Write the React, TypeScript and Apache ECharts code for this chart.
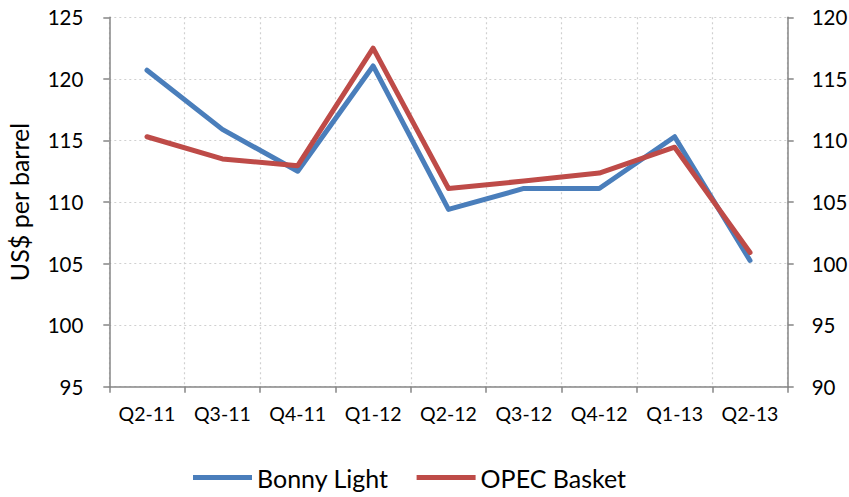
import React, { useEffect, useRef } from "react";
import * as echarts from "echarts";

const categories = ["Q2-11", "Q3-11", "Q4-11", "Q1-12", "Q2-12", "Q3-12", "Q4-12", "Q1-13", "Q2-13"];
const bonnyLight = [120.7, 115.9, 112.5, 121.05, 109.4, 111.1, 111.1, 115.3, 105.25];
const opecBasket = [110.3, 108.5, 107.95, 117.5, 106.1, 106.7, 107.35, 109.45, 100.9];
const leftTicks = { min: 95, max: 125, interval: 5 };
const rightTicks = { min: 90, max: 120, interval: 5 };

const FONT = "Lato, 'Open Sans', sans-serif";

export default function App() {
  const ref = useRef<HTMLDivElement>(null);
  useEffect(() => {
    if (!ref.current) return;
    const chart = echarts.init(ref.current, undefined, { renderer: "svg" });
    const axisLine = { show: true, lineStyle: { color: "#868686", width: 1.5 } };
    const axisTick = { show: true, length: 6, lineStyle: { color: "#868686", width: 1.5 } };
    chart.setOption({
      animation: false,
      backgroundColor: "#ffffff",
      textStyle: { fontFamily: FONT },
      grid: {
        left: 109.3,
        right: 61.3,
        top: 17.3,
        bottom: 110.3,
        containLabel: false,
        outerBoundsMode: "none",
      },
      legend: {
        data: ["Bonny Light", "OPEC Basket"],
        left: 188,
        top: 460,
        icon: "rect",
        itemWidth: 59,
        itemHeight: 5,
        itemGap: 28,
        textStyle: { fontFamily: FONT, fontSize: 25, color: "#000" },
      },
      xAxis: {
        type: "category",
        data: categories,
        boundaryGap: true,
        axisLine,
        axisTick: { ...axisTick, alignWithLabel: false },
        axisLabel: { color: "#000", fontSize: 19.5, fontFamily: FONT, margin: 17 },
        splitLine: { show: true, lineStyle: { color: "#D0D0D0", type: [2, 3], width: 1.2 } },
      },
      yAxis: [
        {
          type: "value",
          position: "left",
          min: leftTicks.min,
          max: leftTicks.max,
          interval: leftTicks.interval,
          name: "US$ per barrel",
          nameLocation: "middle",
          nameRotate: 90,
          nameGap: 78,
          nameTextStyle: { fontFamily: FONT, fontSize: 25, color: "#000" },
          axisLine,
          axisTick,
          axisLabel: { color: "#000", fontSize: 20.5, fontFamily: FONT, margin: 26 },
          splitLine: { show: true, lineStyle: { color: "#D0D0D0", type: [2, 3], width: 1.2 } },
        },
        {
          type: "value",
          position: "right",
          min: rightTicks.min,
          max: rightTicks.max,
          interval: rightTicks.interval,
          axisLine,
          axisTick,
          axisLabel: { color: "#000", fontSize: 20.5, fontFamily: FONT, margin: 24 },
          splitLine: { show: false },
        },
      ],
      series: [
        {
          name: "Bonny Light",
          type: "line",
          yAxisIndex: 0,
          data: bonnyLight,
          showSymbol: false,
          symbol: "none",
          color: "#4A7EBB",
          lineStyle: { width: 5, color: "#4A7EBB", cap: "round", join: "round" },
        },
        {
          name: "OPEC Basket",
          type: "line",
          yAxisIndex: 1,
          data: opecBasket,
          showSymbol: false,
          symbol: "none",
          color: "#BE4B48",
          lineStyle: { width: 5, color: "#BE4B48", cap: "round", join: "round" },
        },
      ],
    });
    return () => chart.dispose();
  }, []);
  return (
    <div
      ref={ref}
      style={{ position: "fixed", left: 0, top: 0, width: 849, height: 497, background: "#fff" }}
    />
  );
}
